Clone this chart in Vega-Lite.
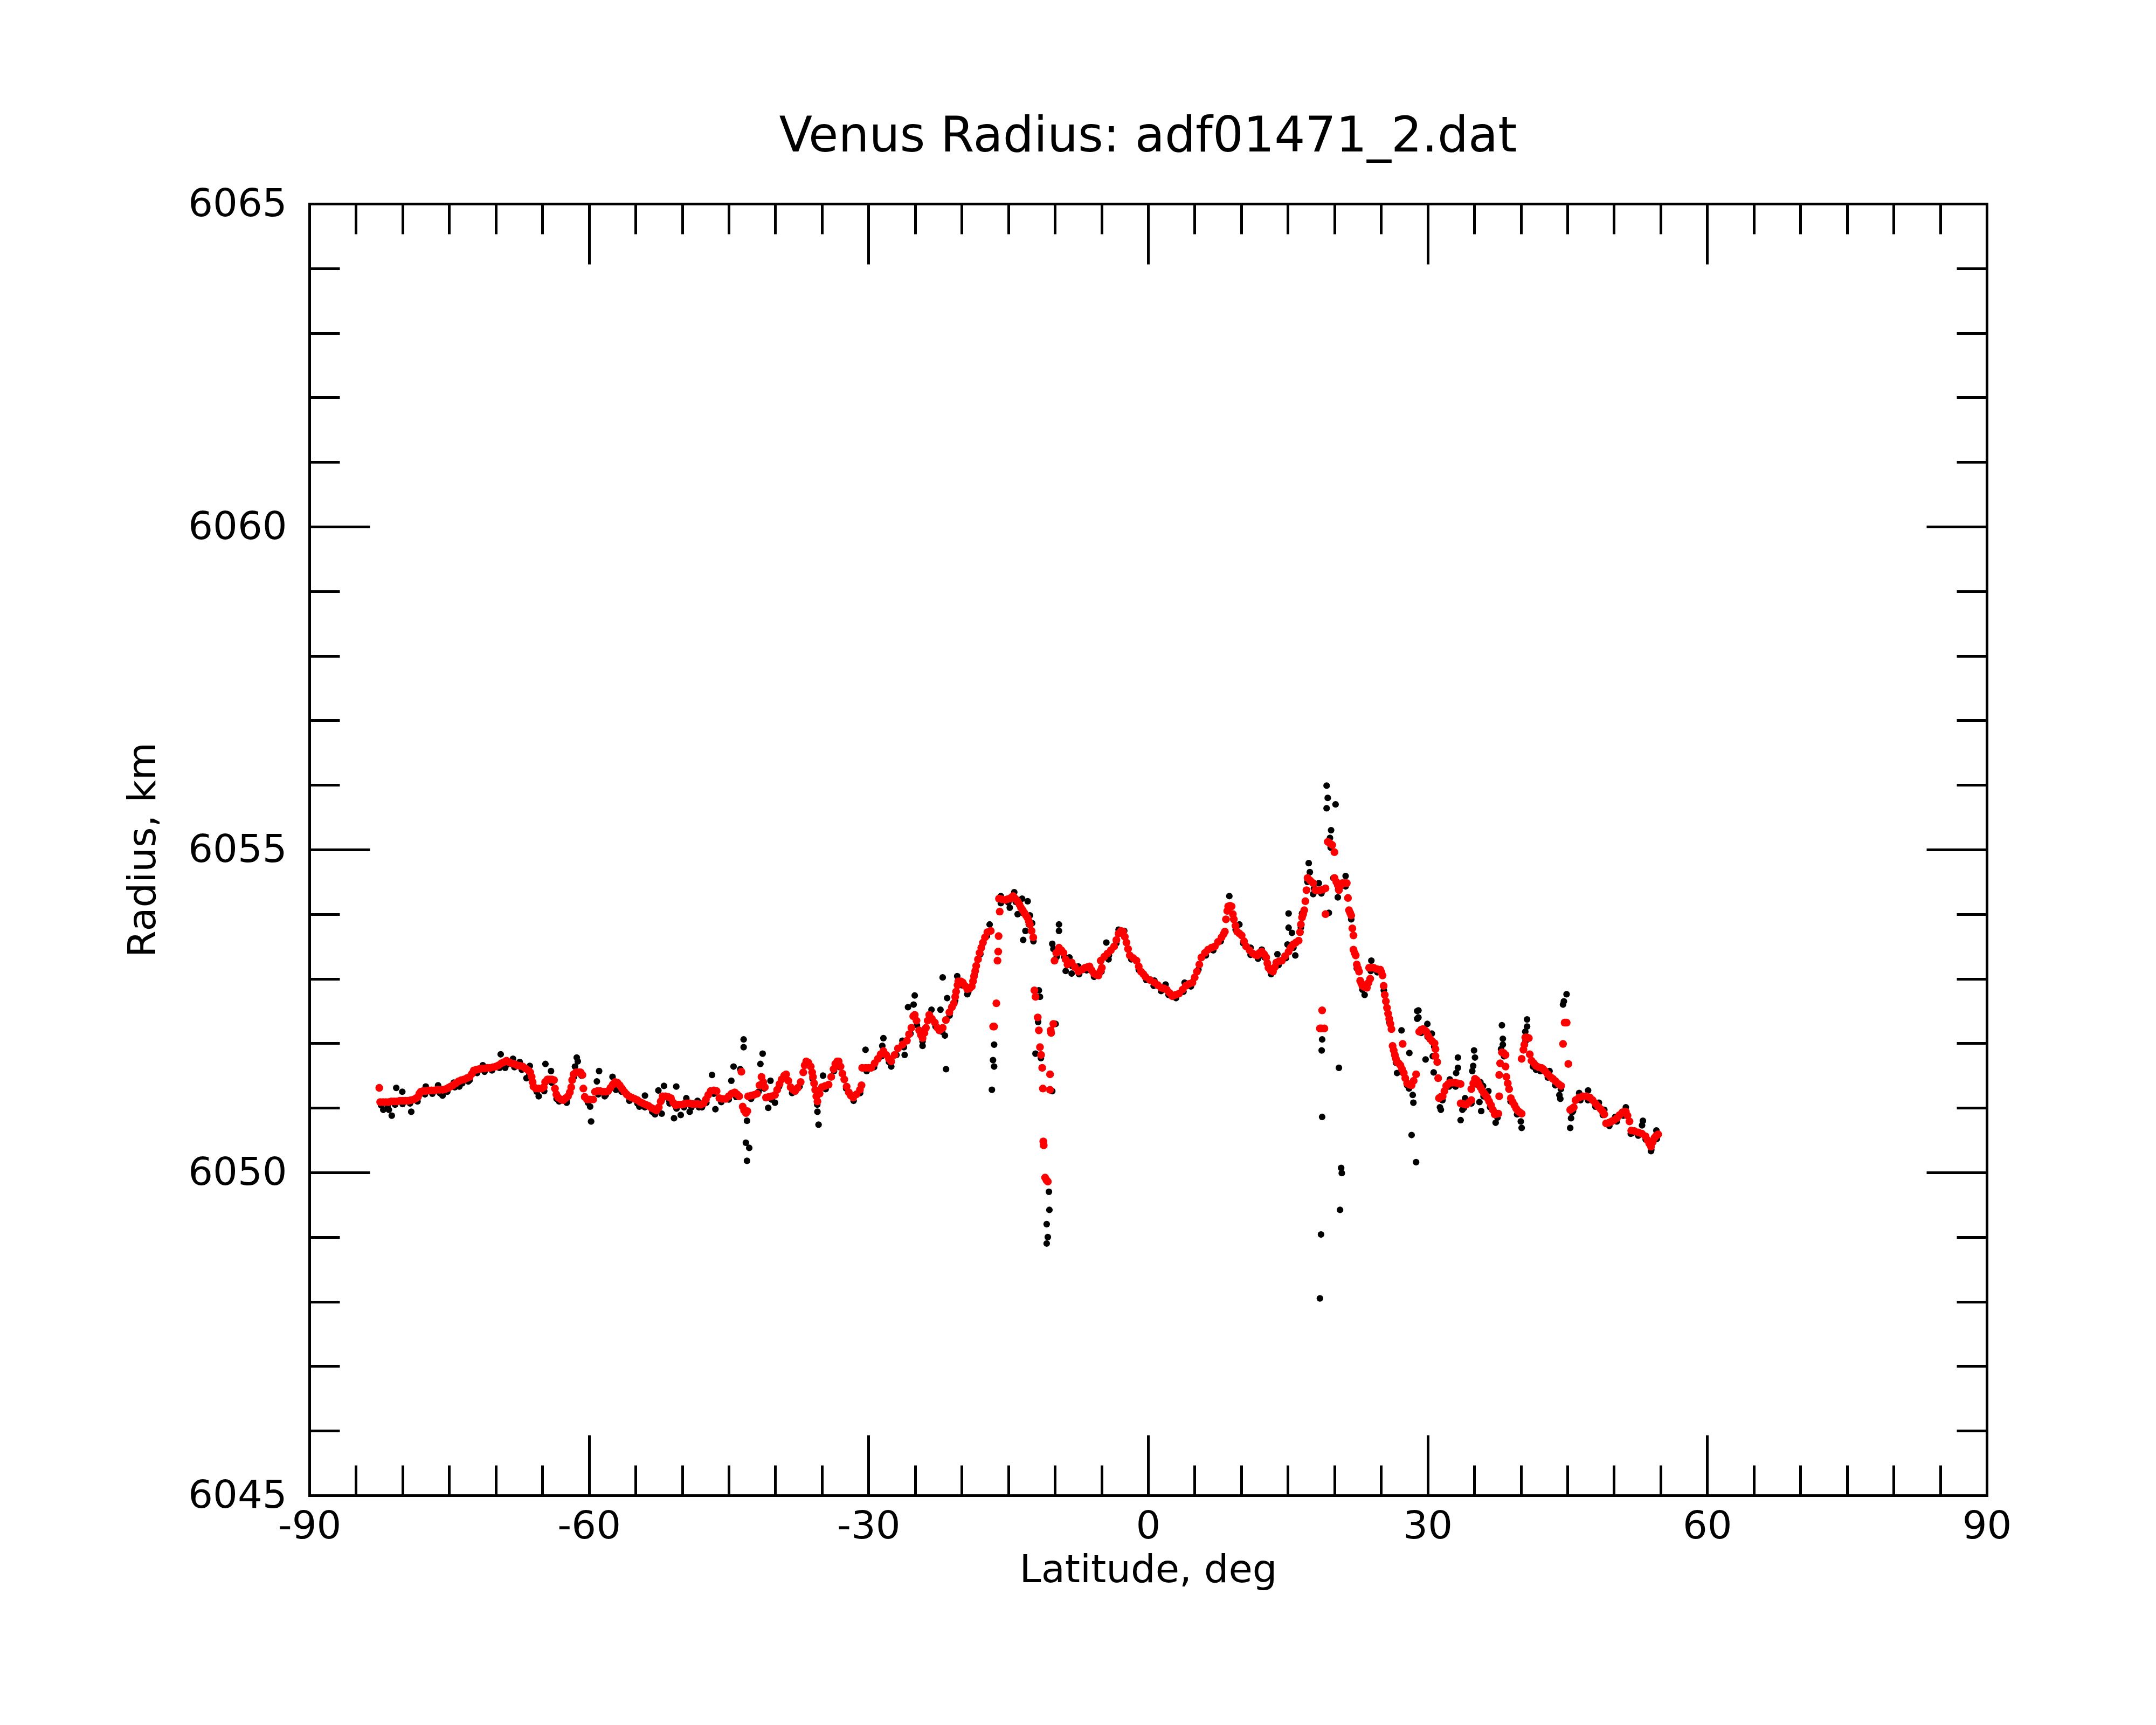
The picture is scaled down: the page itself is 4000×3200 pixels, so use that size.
{
  "$schema": "https://vega.github.io/schema/vega-lite/v6.json",
  "autosize": "none",
  "width": 3112,
  "height": 2396,
  "padding": {"left": 574, "top": 378, "right": 314, "bottom": 426},
  "background": "white",
  "title": {
    "text": "Venus Radius: adf01471_2.dat",
    "font": "DejaVu Sans",
    "fontSize": 90,
    "fontWeight": "normal",
    "color": "black",
    "anchor": "middle",
    "frame": "group",
    "offset": 42
  },
  "datasets": {
    "red": [
      {"lat": -82.5, "radius": 6051.31}, {"lat": -82.4, "radius": 6051.09}, {"lat": -82.1, "radius": 6051.09}, {"lat": -81.8, "radius": 6051.09},
      {"lat": -81.5, "radius": 6051.09}, {"lat": -81.2, "radius": 6051.1}, {"lat": -80.9, "radius": 6051.1}, {"lat": -80.6, "radius": 6051.1},
      {"lat": -80.3, "radius": 6051.11}, {"lat": -80.0, "radius": 6051.11}, {"lat": -79.7, "radius": 6051.11}, {"lat": -79.4, "radius": 6051.11},
      {"lat": -79.1, "radius": 6051.12}, {"lat": -78.8, "radius": 6051.13}, {"lat": -78.55, "radius": 6051.15}, {"lat": -78.35, "radius": 6051.17},
      {"lat": -78.2, "radius": 6051.22}, {"lat": -78.05, "radius": 6051.25}, {"lat": -77.8, "radius": 6051.26}, {"lat": -77.5, "radius": 6051.26},
      {"lat": -77.2, "radius": 6051.27}, {"lat": -76.9, "radius": 6051.27}, {"lat": -76.6, "radius": 6051.27}, {"lat": -76.3, "radius": 6051.28},
      {"lat": -76.0, "radius": 6051.28}, {"lat": -75.7, "radius": 6051.28}, {"lat": -75.4, "radius": 6051.29}, {"lat": -75.1, "radius": 6051.31},
      {"lat": -74.85, "radius": 6051.33}, {"lat": -74.6, "radius": 6051.35}, {"lat": -74.3, "radius": 6051.38}, {"lat": -74.0, "radius": 6051.41},
      {"lat": -73.7, "radius": 6051.43}, {"lat": -73.4, "radius": 6051.44}, {"lat": -73.1, "radius": 6051.46}, {"lat": -72.8, "radius": 6051.48},
      {"lat": -72.55, "radius": 6051.53}, {"lat": -72.35, "radius": 6051.58}, {"lat": -72.1, "radius": 6051.59}, {"lat": -71.8, "radius": 6051.6},
      {"lat": -71.5, "radius": 6051.61}, {"lat": -71.2, "radius": 6051.61}, {"lat": -70.9, "radius": 6051.62}, {"lat": -70.6, "radius": 6051.62},
      {"lat": -70.3, "radius": 6051.63}, {"lat": -70.0, "radius": 6051.64}, {"lat": -69.7, "radius": 6051.66}, {"lat": -69.4, "radius": 6051.69},
      {"lat": -69.1, "radius": 6051.71}, {"lat": -68.85, "radius": 6051.73}, {"lat": -68.6, "radius": 6051.71}, {"lat": -68.3, "radius": 6051.69},
      {"lat": -68.0, "radius": 6051.68}, {"lat": -67.7, "radius": 6051.66}, {"lat": -67.4, "radius": 6051.65}, {"lat": -67.1, "radius": 6051.64},
      {"lat": -66.8, "radius": 6051.61}, {"lat": -66.5, "radius": 6051.58}, {"lat": -66.3, "radius": 6051.55}, {"lat": -66.15, "radius": 6051.48},
      {"lat": -66.05, "radius": 6051.4}, {"lat": -65.95, "radius": 6051.33}, {"lat": -65.7, "radius": 6051.3}, {"lat": -65.4, "radius": 6051.3},
      {"lat": -65.1, "radius": 6051.3}, {"lat": -64.85, "radius": 6051.32}, {"lat": -64.7, "radius": 6051.4}, {"lat": -64.45, "radius": 6051.44},
      {"lat": -64.2, "radius": 6051.44}, {"lat": -63.95, "radius": 6051.44}, {"lat": -63.75, "radius": 6051.43}, {"lat": -63.65, "radius": 6051.3},
      {"lat": -63.5, "radius": 6051.21}, {"lat": -63.3, "radius": 6051.16}, {"lat": -63.0, "radius": 6051.13}, {"lat": -62.75, "radius": 6051.12},
      {"lat": -62.5, "radius": 6051.15}, {"lat": -62.25, "radius": 6051.18}, {"lat": -62.05, "radius": 6051.24}, {"lat": -61.9, "radius": 6051.32},
      {"lat": -61.8, "radius": 6051.43}, {"lat": -61.65, "radius": 6051.52}, {"lat": -61.4, "radius": 6051.55}, {"lat": -61.1, "radius": 6051.55},
      {"lat": -60.9, "radius": 6051.55}, {"lat": -60.7, "radius": 6051.51}, {"lat": -60.6, "radius": 6051.3}, {"lat": -60.45, "radius": 6051.17},
      {"lat": -60.2, "radius": 6051.13}, {"lat": -59.9, "radius": 6051.13}, {"lat": -59.55, "radius": 6051.13}, {"lat": -59.35, "radius": 6051.25},
      {"lat": -59.1, "radius": 6051.26}, {"lat": -58.8, "radius": 6051.26}, {"lat": -58.5, "radius": 6051.25}, {"lat": -58.2, "radius": 6051.25},
      {"lat": -57.95, "radius": 6051.26}, {"lat": -57.7, "radius": 6051.31}, {"lat": -57.45, "radius": 6051.36}, {"lat": -57.2, "radius": 6051.4},
      {"lat": -56.95, "radius": 6051.39}, {"lat": -56.7, "radius": 6051.35}, {"lat": -56.45, "radius": 6051.3}, {"lat": -56.2, "radius": 6051.25},
      {"lat": -55.95, "radius": 6051.21}, {"lat": -55.7, "radius": 6051.18}, {"lat": -55.4, "radius": 6051.16}, {"lat": -55.1, "radius": 6051.14},
      {"lat": -54.8, "radius": 6051.12}, {"lat": -54.5, "radius": 6051.09}, {"lat": -54.2, "radius": 6051.07}, {"lat": -53.9, "radius": 6051.05},
      {"lat": -53.6, "radius": 6051.03}, {"lat": -53.3, "radius": 6051.0}, {"lat": -53.0, "radius": 6050.98}, {"lat": -52.75, "radius": 6050.96},
      {"lat": -52.5, "radius": 6051.01}, {"lat": -52.3, "radius": 6051.1}, {"lat": -52.1, "radius": 6051.18}, {"lat": -51.8, "radius": 6051.18},
      {"lat": -51.5, "radius": 6051.17}, {"lat": -51.2, "radius": 6051.15}, {"lat": -50.95, "radius": 6051.08}, {"lat": -50.7, "radius": 6051.04},
      {"lat": -50.4, "radius": 6051.05}, {"lat": -50.1, "radius": 6051.05}, {"lat": -49.8, "radius": 6051.06}, {"lat": -49.5, "radius": 6051.07},
      {"lat": -49.2, "radius": 6051.07}, {"lat": -48.9, "radius": 6051.06}, {"lat": -48.6, "radius": 6051.06}, {"lat": -48.3, "radius": 6051.06},
      {"lat": -48.0, "radius": 6051.05}, {"lat": -47.7, "radius": 6051.07}, {"lat": -47.45, "radius": 6051.13}, {"lat": -47.2, "radius": 6051.2},
      {"lat": -46.95, "radius": 6051.26}, {"lat": -46.6, "radius": 6051.27}, {"lat": -46.3, "radius": 6051.26}, {"lat": -46.0, "radius": 6051.15},
      {"lat": -45.7, "radius": 6051.14}, {"lat": -45.32, "radius": 6051.14}, {"lat": -45.0, "radius": 6051.18}, {"lat": -44.7, "radius": 6051.22},
      {"lat": -44.36, "radius": 6051.24}, {"lat": -44.1, "radius": 6051.21}, {"lat": -43.88, "radius": 6051.18}, {"lat": -43.64, "radius": 6051.56},
      {"lat": -43.5, "radius": 6051.02}, {"lat": -43.35, "radius": 6050.96}, {"lat": -43.15, "radius": 6050.92}, {"lat": -43.0, "radius": 6050.95},
      {"lat": -42.92, "radius": 6051.18}, {"lat": -42.6, "radius": 6051.19}, {"lat": -42.3, "radius": 6051.2}, {"lat": -41.96, "radius": 6051.22},
      {"lat": -41.7, "radius": 6051.35}, {"lat": -41.48, "radius": 6051.48}, {"lat": -41.3, "radius": 6051.4}, {"lat": -41.12, "radius": 6051.32},
      {"lat": -41.0, "radius": 6051.16}, {"lat": -40.7, "radius": 6051.17}, {"lat": -40.4, "radius": 6051.18}, {"lat": -40.04, "radius": 6051.2},
      {"lat": -39.8, "radius": 6051.28}, {"lat": -39.55, "radius": 6051.37}, {"lat": -39.32, "radius": 6051.44}, {"lat": -39.05, "radius": 6051.5},
      {"lat": -38.84, "radius": 6051.52}, {"lat": -38.6, "radius": 6051.42}, {"lat": -38.36, "radius": 6051.32}, {"lat": -38.1, "radius": 6051.28},
      {"lat": -37.88, "radius": 6051.26}, {"lat": -37.6, "radius": 6051.31}, {"lat": -37.28, "radius": 6051.4}, {"lat": -37.0, "radius": 6051.55},
      {"lat": -36.85, "radius": 6051.66}, {"lat": -36.68, "radius": 6051.72}, {"lat": -36.45, "radius": 6051.7}, {"lat": -36.2, "radius": 6051.64},
      {"lat": -36.05, "radius": 6051.55}, {"lat": -35.96, "radius": 6051.48}, {"lat": -35.84, "radius": 6051.38}, {"lat": -35.72, "radius": 6051.28},
      {"lat": -35.6, "radius": 6051.18}, {"lat": -35.48, "radius": 6051.1}, {"lat": -35.25, "radius": 6051.22}, {"lat": -35.0, "radius": 6051.32},
      {"lat": -34.65, "radius": 6051.34}, {"lat": -34.28, "radius": 6051.36}, {"lat": -34.0, "radius": 6051.48}, {"lat": -33.75, "radius": 6051.6},
      {"lat": -33.56, "radius": 6051.68}, {"lat": -33.35, "radius": 6051.72}, {"lat": -33.2, "radius": 6051.72}, {"lat": -33.0, "radius": 6051.64},
      {"lat": -32.8, "radius": 6051.53}, {"lat": -32.6, "radius": 6051.44}, {"lat": -32.35, "radius": 6051.33}, {"lat": -32.12, "radius": 6051.24},
      {"lat": -31.9, "radius": 6051.19}, {"lat": -31.64, "radius": 6051.16}, {"lat": -31.3, "radius": 6051.21}, {"lat": -30.92, "radius": 6051.28},
      {"lat": -30.75, "radius": 6051.35}, {"lat": -30.68, "radius": 6051.62}, {"lat": -30.3, "radius": 6051.62}, {"lat": -30.0, "radius": 6051.62},
      {"lat": -29.72, "radius": 6051.62}, {"lat": -29.35, "radius": 6051.69}, {"lat": -29.0, "radius": 6051.76}, {"lat": -28.7, "radius": 6051.83},
      {"lat": -28.4, "radius": 6051.88}, {"lat": -28.1, "radius": 6051.82}, {"lat": -27.8, "radius": 6051.76}, {"lat": -27.56, "radius": 6051.72},
      {"lat": -27.2, "radius": 6051.82}, {"lat": -26.84, "radius": 6051.92}, {"lat": -26.35, "radius": 6051.98}, {"lat": -25.88, "radius": 6052.04},
      {"lat": -25.65, "radius": 6052.14}, {"lat": -25.4, "radius": 6052.24}, {"lat": -25.2, "radius": 6052.42}, {"lat": -25.04, "radius": 6052.44},
      {"lat": -24.85, "radius": 6052.35}, {"lat": -24.56, "radius": 6052.2}, {"lat": -24.38, "radius": 6052.13}, {"lat": -24.2, "radius": 6052.08},
      {"lat": -24.0, "radius": 6052.16}, {"lat": -23.84, "radius": 6052.24}, {"lat": -23.65, "radius": 6052.35}, {"lat": -23.48, "radius": 6052.44},
      {"lat": -23.2, "radius": 6052.38}, {"lat": -22.88, "radius": 6052.32}, {"lat": -22.6, "radius": 6052.24}, {"lat": -22.4, "radius": 6052.2},
      {"lat": -22.2, "radius": 6052.22}, {"lat": -22.04, "radius": 6052.24}, {"lat": -21.7, "radius": 6052.36}, {"lat": -21.32, "radius": 6052.48},
      {"lat": -21.05, "radius": 6052.56}, {"lat": -20.84, "radius": 6052.62}, {"lat": -20.7, "radius": 6052.72}, {"lat": -20.6, "radius": 6052.8},
      {"lat": -20.45, "radius": 6052.9}, {"lat": -20.36, "radius": 6052.96}, {"lat": -20.1, "radius": 6052.96}, {"lat": -19.88, "radius": 6052.94},
      {"lat": -19.65, "radius": 6052.89}, {"lat": -19.4, "radius": 6052.84}, {"lat": -19.15, "radius": 6052.85}, {"lat": -18.92, "radius": 6052.88},
      {"lat": -18.78, "radius": 6052.96}, {"lat": -18.68, "radius": 6053.04}, {"lat": -18.55, "radius": 6053.12}, {"lat": -18.44, "radius": 6053.2},
      {"lat": -18.25, "radius": 6053.3}, {"lat": -18.08, "radius": 6053.4}, {"lat": -17.9, "radius": 6053.48}, {"lat": -17.72, "radius": 6053.56},
      {"lat": -17.5, "radius": 6053.64}, {"lat": -17.24, "radius": 6053.72}, {"lat": -16.88, "radius": 6053.74}, {"lat": -16.52, "radius": 6052.26},
      {"lat": -16.62, "radius": 6052.26}, {"lat": -16.28, "radius": 6052.62}, {"lat": -16.16, "radius": 6053.28}, {"lat": -16.08, "radius": 6053.42},
      {"lat": -16.04, "radius": 6053.66}, {"lat": -15.92, "radius": 6054.04}, {"lat": -16.0, "radius": 6054.24}, {"lat": -15.7, "radius": 6054.23},
      {"lat": -15.32, "radius": 6054.22}, {"lat": -15.1, "radius": 6054.23}, {"lat": -14.84, "radius": 6054.24}, {"lat": -14.65, "radius": 6054.26},
      {"lat": -14.48, "radius": 6054.28}, {"lat": -14.25, "radius": 6054.24}, {"lat": -14.0, "radius": 6054.2}, {"lat": -13.8, "radius": 6054.15},
      {"lat": -13.64, "radius": 6054.1}, {"lat": -13.45, "radius": 6054.06}, {"lat": -13.28, "radius": 6054.02}, {"lat": -13.1, "radius": 6053.98},
      {"lat": -12.92, "radius": 6053.94}, {"lat": -12.8, "radius": 6053.89}, {"lat": -12.68, "radius": 6053.84}, {"lat": -12.5, "radius": 6053.74},
      {"lat": -12.32, "radius": 6053.64}, {"lat": -12.2, "radius": 6052.82}, {"lat": -12.08, "radius": 6052.72}, {"lat": -11.84, "radius": 6052.4},
      {"lat": -11.72, "radius": 6052.2}, {"lat": -11.6, "radius": 6051.94}, {"lat": -11.48, "radius": 6051.82}, {"lat": -11.36, "radius": 6051.62},
      {"lat": -11.29, "radius": 6051.3}, {"lat": -11.24, "radius": 6050.48}, {"lat": -11.2, "radius": 6050.42}, {"lat": -11.05, "radius": 6049.92},
      {"lat": -10.9, "radius": 6049.88}, {"lat": -10.76, "radius": 6049.86}, {"lat": -10.52, "radius": 6051.28}, {"lat": -10.52, "radius": 6051.52},
      {"lat": -10.4, "radius": 6052.16}, {"lat": -10.45, "radius": 6052.2}, {"lat": -10.16, "radius": 6052.3}, {"lat": -10.04, "radius": 6053.28},
      {"lat": -9.85, "radius": 6053.4}, {"lat": -9.56, "radius": 6053.48}, {"lat": -9.3, "radius": 6053.44}, {"lat": -9.08, "radius": 6053.4},
      {"lat": -8.85, "radius": 6053.3}, {"lat": -8.65, "radius": 6053.22}, {"lat": -8.44, "radius": 6053.25}, {"lat": -8.2, "radius": 6053.25},
      {"lat": -7.85, "radius": 6053.18}, {"lat": -7.48, "radius": 6053.11}, {"lat": -7.1, "radius": 6053.14}, {"lat": -6.76, "radius": 6053.17},
      {"lat": -6.5, "radius": 6053.18}, {"lat": -6.28, "radius": 6053.19}, {"lat": -6.05, "radius": 6053.13}, {"lat": -5.8, "radius": 6053.08},
      {"lat": -5.55, "radius": 6053.06}, {"lat": -5.32, "radius": 6053.05}, {"lat": -5.1, "radius": 6053.12}, {"lat": -4.96, "radius": 6053.17},
      {"lat": -5.08, "radius": 6053.28}, {"lat": -4.7, "radius": 6053.34}, {"lat": -4.36, "radius": 6053.39}, {"lat": -4.0, "radius": 6053.44},
      {"lat": -3.64, "radius": 6053.5}, {"lat": -3.4, "radius": 6053.6}, {"lat": -3.16, "radius": 6053.7}, {"lat": -2.9, "radius": 6053.74},
      {"lat": -2.68, "radius": 6053.73}, {"lat": -2.5, "radius": 6053.65}, {"lat": -2.32, "radius": 6053.56}, {"lat": -2.15, "radius": 6053.46},
      {"lat": -1.96, "radius": 6053.36}, {"lat": -1.6, "radius": 6053.32}, {"lat": -1.24, "radius": 6053.28}, {"lat": -1.0, "radius": 6053.19},
      {"lat": -0.76, "radius": 6053.11}, {"lat": -0.5, "radius": 6053.07}, {"lat": -0.28, "radius": 6053.03}, {"lat": 0.2, "radius": 6052.98},
      {"lat": 0.68, "radius": 6052.94}, {"lat": 1.05, "radius": 6052.9}, {"lat": 1.4, "radius": 6052.86}, {"lat": 1.7, "radius": 6052.85},
      {"lat": 2.0, "radius": 6052.83}, {"lat": 2.3, "radius": 6052.78}, {"lat": 2.6, "radius": 6052.73}, {"lat": 2.95, "radius": 6052.75},
      {"lat": 3.32, "radius": 6052.77}, {"lat": 3.7, "radius": 6052.83}, {"lat": 4.04, "radius": 6052.89}, {"lat": 4.4, "radius": 6052.92},
      {"lat": 4.76, "radius": 6052.94}, {"lat": 5.0, "radius": 6053.02}, {"lat": 5.24, "radius": 6053.11}, {"lat": 5.5, "radius": 6053.22},
      {"lat": 5.72, "radius": 6053.33}, {"lat": 6.1, "radius": 6053.4}, {"lat": 6.44, "radius": 6053.45}, {"lat": 6.8, "radius": 6053.48},
      {"lat": 7.16, "radius": 6053.5}, {"lat": 7.5, "radius": 6053.57}, {"lat": 7.88, "radius": 6053.64}, {"lat": 8.1, "radius": 6053.69},
      {"lat": 8.24, "radius": 6053.73}, {"lat": 8.36, "radius": 6053.92}, {"lat": 8.5, "radius": 6054.05}, {"lat": 8.6, "radius": 6054.12},
      {"lat": 8.8, "radius": 6054.13}, {"lat": 8.96, "radius": 6054.12}, {"lat": 9.1, "radius": 6054.0}, {"lat": 9.2, "radius": 6053.92},
      {"lat": 9.38, "radius": 6053.82}, {"lat": 9.56, "radius": 6053.73}, {"lat": 9.8, "radius": 6053.7}, {"lat": 10.04, "radius": 6053.67},
      {"lat": 10.3, "radius": 6053.58}, {"lat": 10.52, "radius": 6053.5}, {"lat": 10.9, "radius": 6053.44}, {"lat": 11.24, "radius": 6053.39},
      {"lat": 11.5, "radius": 6053.37}, {"lat": 11.72, "radius": 6053.36}, {"lat": 11.95, "radius": 6053.4}, {"lat": 12.2, "radius": 6053.42},
      {"lat": 12.45, "radius": 6053.38}, {"lat": 12.68, "radius": 6053.33}, {"lat": 12.8, "radius": 6053.24}, {"lat": 12.92, "radius": 6053.17},
      {"lat": 13.15, "radius": 6053.13}, {"lat": 13.4, "radius": 6053.11}, {"lat": 13.6, "radius": 6053.18}, {"lat": 13.76, "radius": 6053.25},
      {"lat": 14.05, "radius": 6053.27}, {"lat": 14.36, "radius": 6053.28}, {"lat": 14.7, "radius": 6053.35}, {"lat": 15.08, "radius": 6053.42},
      {"lat": 15.3, "radius": 6053.48}, {"lat": 15.56, "radius": 6053.53}, {"lat": 15.85, "radius": 6053.56}, {"lat": 16.16, "radius": 6053.59},
      {"lat": 16.3, "radius": 6053.72}, {"lat": 16.4, "radius": 6053.84}, {"lat": 16.52, "radius": 6053.95}, {"lat": 16.64, "radius": 6054.0},
      {"lat": 16.76, "radius": 6054.06}, {"lat": 16.88, "radius": 6054.2}, {"lat": 17.0, "radius": 6054.37}, {"lat": 17.12, "radius": 6054.56},
      {"lat": 17.4, "radius": 6054.52}, {"lat": 17.72, "radius": 6054.48}, {"lat": 17.96, "radius": 6054.37}, {"lat": 18.2, "radius": 6054.37},
      {"lat": 18.44, "radius": 6054.37}, {"lat": 18.75, "radius": 6054.38}, {"lat": 19.04, "radius": 6054.4}, {"lat": 19.04, "radius": 6054.0},
      {"lat": 19.28, "radius": 6055.12}, {"lat": 19.5, "radius": 6055.1}, {"lat": 19.76, "radius": 6055.07}, {"lat": 20.0, "radius": 6054.96},
      {"lat": 20.0, "radius": 6054.56}, {"lat": 20.2, "radius": 6054.5}, {"lat": 20.36, "radius": 6054.45}, {"lat": 20.48, "radius": 6054.37},
      {"lat": 20.65, "radius": 6054.44}, {"lat": 20.84, "radius": 6054.48}, {"lat": 21.1, "radius": 6054.48}, {"lat": 21.32, "radius": 6054.48},
      {"lat": 21.45, "radius": 6054.25}, {"lat": 21.56, "radius": 6054.06}, {"lat": 21.68, "radius": 6054.02}, {"lat": 21.8, "radius": 6053.98},
      {"lat": 21.92, "radius": 6053.78}, {"lat": 22.04, "radius": 6053.67}, {"lat": 22.04, "radius": 6053.45}, {"lat": 22.16, "radius": 6053.4},
      {"lat": 22.28, "radius": 6053.36}, {"lat": 22.4, "radius": 6053.22}, {"lat": 22.52, "radius": 6053.16}, {"lat": 22.64, "radius": 6053.11},
      {"lat": 22.76, "radius": 6052.97}, {"lat": 22.88, "radius": 6052.93}, {"lat": 23.0, "radius": 6052.89}, {"lat": 23.24, "radius": 6052.87},
      {"lat": 23.48, "radius": 6052.86}, {"lat": 23.66, "radius": 6052.94}, {"lat": 23.84, "radius": 6053.0}, {"lat": 23.72, "radius": 6053.17},
      {"lat": 23.95, "radius": 6053.17}, {"lat": 24.2, "radius": 6053.17}, {"lat": 24.55, "radius": 6053.15}, {"lat": 24.92, "radius": 6053.14},
      {"lat": 25.04, "radius": 6053.1}, {"lat": 25.16, "radius": 6053.05}, {"lat": 25.28, "radius": 6052.89}, {"lat": 25.4, "radius": 6052.75},
      {"lat": 25.52, "radius": 6052.65}, {"lat": 25.64, "radius": 6052.55}, {"lat": 25.76, "radius": 6052.46}, {"lat": 25.88, "radius": 6052.38},
      {"lat": 26.0, "radius": 6052.3}, {"lat": 26.12, "radius": 6052.22}, {"lat": 26.24, "radius": 6051.96}, {"lat": 26.36, "radius": 6051.89},
      {"lat": 26.48, "radius": 6051.82}, {"lat": 26.6, "radius": 6051.76}, {"lat": 26.72, "radius": 6051.71}, {"lat": 26.9, "radius": 6051.69},
      {"lat": 27.08, "radius": 6051.66}, {"lat": 27.25, "radius": 6051.6}, {"lat": 27.44, "radius": 6051.54}, {"lat": 27.6, "radius": 6051.46},
      {"lat": 27.8, "radius": 6051.38}, {"lat": 28.05, "radius": 6051.36}, {"lat": 28.28, "radius": 6051.35}, {"lat": 28.5, "radius": 6051.42},
      {"lat": 28.76, "radius": 6051.52}, {"lat": 27.32, "radius": 6051.99}, {"lat": 18.68, "radius": 6052.51}, {"lat": 18.44, "radius": 6052.23},
      {"lat": 18.6, "radius": 6052.23}, {"lat": 18.92, "radius": 6052.23},
      {"lat": 29.1, "radius": 6052.18}, {"lat": 29.3, "radius": 6052.21}, {"lat": 29.49, "radius": 6052.22}, {"lat": 29.7, "radius": 6052.2},
      {"lat": 29.87, "radius": 6052.18}, {"lat": 30.05, "radius": 6052.12}, {"lat": 30.26, "radius": 6052.07}, {"lat": 30.5, "radius": 6052.03},
      {"lat": 30.74, "radius": 6052.0}, {"lat": 30.84, "radius": 6051.91}, {"lat": 30.84, "radius": 6051.8}, {"lat": 31.03, "radius": 6051.71},
      {"lat": 31.13, "radius": 6051.46}, {"lat": 31.22, "radius": 6051.15}, {"lat": 31.4, "radius": 6051.17}, {"lat": 31.61, "radius": 6051.18},
      {"lat": 31.8, "radius": 6051.26}, {"lat": 32.0, "radius": 6051.34}, {"lat": 32.2, "radius": 6051.37}, {"lat": 32.38, "radius": 6051.39},
      {"lat": 32.65, "radius": 6051.39}, {"lat": 32.96, "radius": 6051.39}, {"lat": 33.25, "radius": 6051.38}, {"lat": 33.54, "radius": 6051.37},
      {"lat": 33.54, "radius": 6051.07}, {"lat": 33.85, "radius": 6051.06}, {"lat": 34.12, "radius": 6051.05}, {"lat": 34.4, "radius": 6051.08},
      {"lat": 34.69, "radius": 6051.12}, {"lat": 34.69, "radius": 6051.29}, {"lat": 34.9, "radius": 6051.38}, {"lat": 35.08, "radius": 6051.45},
      {"lat": 35.25, "radius": 6051.43}, {"lat": 35.37, "radius": 6051.4}, {"lat": 35.5, "radius": 6051.36}, {"lat": 35.66, "radius": 6051.32},
      {"lat": 35.85, "radius": 6051.27}, {"lat": 36.04, "radius": 6051.23}, {"lat": 36.25, "radius": 6051.19}, {"lat": 36.43, "radius": 6051.15},
      {"lat": 36.6, "radius": 6051.1}, {"lat": 36.81, "radius": 6051.04}, {"lat": 37.0, "radius": 6050.97}, {"lat": 37.2, "radius": 6050.9},
      {"lat": 37.4, "radius": 6050.91}, {"lat": 37.59, "radius": 6050.91}, {"lat": 37.68, "radius": 6051.18}, {"lat": 37.68, "radius": 6051.51},
      {"lat": 37.78, "radius": 6051.69}, {"lat": 37.97, "radius": 6051.86}, {"lat": 38.15, "radius": 6051.85}, {"lat": 38.36, "radius": 6051.82},
      {"lat": 38.36, "radius": 6051.64}, {"lat": 38.45, "radius": 6051.48}, {"lat": 38.6, "radius": 6051.38}, {"lat": 38.74, "radius": 6051.29},
      {"lat": 38.93, "radius": 6051.15}, {"lat": 39.12, "radius": 6051.09}, {"lat": 39.32, "radius": 6051.04}, {"lat": 39.5, "radius": 6050.99},
      {"lat": 39.71, "radius": 6050.95}, {"lat": 39.9, "radius": 6050.93}, {"lat": 40.09, "radius": 6050.91}, {"lat": 40.09, "radius": 6051.76},
      {"lat": 40.28, "radius": 6051.9}, {"lat": 40.38, "radius": 6051.98}, {"lat": 40.48, "radius": 6052.09}, {"lat": 40.67, "radius": 6052.09},
      {"lat": 40.86, "radius": 6052.08}, {"lat": 40.96, "radius": 6051.83}, {"lat": 41.15, "radius": 6051.73}, {"lat": 41.4, "radius": 6051.69},
      {"lat": 41.63, "radius": 6051.65}, {"lat": 41.9, "radius": 6051.63}, {"lat": 42.21, "radius": 6051.62}, {"lat": 42.4, "radius": 6051.6},
      {"lat": 42.6, "radius": 6051.57}, {"lat": 42.9, "radius": 6051.52}, {"lat": 43.18, "radius": 6051.48}, {"lat": 43.45, "radius": 6051.45},
      {"lat": 43.75, "radius": 6051.41}, {"lat": 44.05, "radius": 6051.37}, {"lat": 44.33, "radius": 6051.34}, {"lat": 44.7, "radius": 6052.32},
      {"lat": 44.81, "radius": 6052.32}, {"lat": 44.92, "radius": 6052.32}, {"lat": 44.53, "radius": 6051.99}, {"lat": 45.1, "radius": 6051.68},
      {"lat": 45.3, "radius": 6050.97}, {"lat": 45.5, "radius": 6050.99}, {"lat": 45.68, "radius": 6051.01}, {"lat": 45.88, "radius": 6051.12},
      {"lat": 46.25, "radius": 6051.16}, {"lat": 46.65, "radius": 6051.18}, {"lat": 47.05, "radius": 6051.18}, {"lat": 47.42, "radius": 6051.16},
      {"lat": 47.7, "radius": 6051.12}, {"lat": 48.0, "radius": 6051.07}, {"lat": 48.3, "radius": 6051.02}, {"lat": 48.57, "radius": 6050.98},
      {"lat": 48.8, "radius": 6050.94}, {"lat": 48.96, "radius": 6050.9}, {"lat": 49.15, "radius": 6050.76}, {"lat": 49.45, "radius": 6050.77},
      {"lat": 49.73, "radius": 6050.79}, {"lat": 50.0, "radius": 6050.81}, {"lat": 50.31, "radius": 6050.84}, {"lat": 50.6, "radius": 6050.89},
      {"lat": 50.89, "radius": 6050.93}, {"lat": 51.1, "radius": 6050.94}, {"lat": 51.27, "radius": 6050.94}, {"lat": 51.45, "radius": 6050.88},
      {"lat": 51.66, "radius": 6050.79}, {"lat": 51.85, "radius": 6050.65}, {"lat": 52.2, "radius": 6050.64}, {"lat": 52.62, "radius": 6050.62},
      {"lat": 53.0, "radius": 6050.6}, {"lat": 53.39, "radius": 6050.56}, {"lat": 53.6, "radius": 6050.5}, {"lat": 53.78, "radius": 6050.45},
      {"lat": 53.97, "radius": 6050.4}, {"lat": 54.15, "radius": 6050.47}, {"lat": 54.36, "radius": 6050.54}, {"lat": 54.55, "radius": 6050.57},
      {"lat": 54.74, "radius": 6050.59}
    ],
    "black": [
      {"lat": -82.07, "radius": 6050.97}, {"lat": -81.47, "radius": 6050.97}, {"lat": -81.16, "radius": 6050.88}, {"lat": -80.68, "radius": 6051.31},
      {"lat": -80.03, "radius": 6051.25}, {"lat": -79.07, "radius": 6050.94}, {"lat": -77.51, "radius": 6051.33}, {"lat": -76.19, "radius": 6051.35},
      {"lat": -75.71, "radius": 6051.19}, {"lat": -74.51, "radius": 6051.39}, {"lat": -73.91, "radius": 6051.33}, {"lat": -72.95, "radius": 6051.41},
      {"lat": -71.39, "radius": 6051.66}, {"lat": -69.47, "radius": 6051.83}, {"lat": -68.99, "radius": 6051.62}, {"lat": -68.15, "radius": 6051.76},
      {"lat": -67.43, "radius": 6051.71}, {"lat": -66.71, "radius": 6051.46}, {"lat": -66.35, "radius": 6051.65}, {"lat": -65.39, "radius": 6051.18},
      {"lat": -64.67, "radius": 6051.68}, {"lat": -64.07, "radius": 6051.57}, {"lat": -63.47, "radius": 6051.14}, {"lat": -62.39, "radius": 6051.08},
      {"lat": -61.31, "radius": 6051.78}, {"lat": -61.2, "radius": 6051.72}, {"lat": -61.5, "radius": 6051.64}, {"lat": -59.87, "radius": 6051.02},
      {"lat": -59.77, "radius": 6050.79}, {"lat": -58.91, "radius": 6051.57}, {"lat": -59.15, "radius": 6051.41}, {"lat": -58.31, "radius": 6051.18},
      {"lat": -57.47, "radius": 6051.48}, {"lat": -57.11, "radius": 6051.28}, {"lat": -55.67, "radius": 6051.11}, {"lat": -54.59, "radius": 6051.02},
      {"lat": -53.99, "radius": 6051.19}, {"lat": -52.91, "radius": 6050.9}, {"lat": -52.55, "radius": 6051.27}, {"lat": -52.19, "radius": 6050.91},
      {"lat": -51.95, "radius": 6051.34}, {"lat": -51.35, "radius": 6051.07}, {"lat": -50.87, "radius": 6050.84}, {"lat": -50.63, "radius": 6051.33},
      {"lat": -50.15, "radius": 6050.89}, {"lat": -49.55, "radius": 6051.15}, {"lat": -49.19, "radius": 6050.94}, {"lat": -48.35, "radius": 6051.11},
      {"lat": -47.87, "radius": 6051.01}, {"lat": -46.79, "radius": 6051.51}, {"lat": -46.43, "radius": 6050.98},
      {"lat": -43.4, "radius": 6052.06}, {"lat": -43.4, "radius": 6051.94}, {"lat": -44.48, "radius": 6051.64}, {"lat": -44.72, "radius": 6051.42},
      {"lat": -43.76, "radius": 6051.6}, {"lat": -43.04, "radius": 6050.8}, {"lat": -43.16, "radius": 6050.46}, {"lat": -42.8, "radius": 6050.38},
      {"lat": -43.04, "radius": 6050.18}, {"lat": -41.36, "radius": 6051.84}, {"lat": -41.6, "radius": 6051.68}, {"lat": -40.52, "radius": 6051.42},
      {"lat": -40.76, "radius": 6051.0}, {"lat": -40.04, "radius": 6051.08}, {"lat": -35.48, "radius": 6050.94}, {"lat": -35.36, "radius": 6050.74},
      {"lat": -34.88, "radius": 6051.5}, {"lat": -30.32, "radius": 6051.9}, {"lat": -28.4, "radius": 6052.08}, {"lat": -28.52, "radius": 6051.96},
      {"lat": -27.56, "radius": 6051.64}, {"lat": -26.36, "radius": 6052.04}, {"lat": -26.12, "radius": 6051.82}, {"lat": -25.76, "radius": 6052.56},
      {"lat": -25.04, "radius": 6052.74}, {"lat": -25.16, "radius": 6052.6}, {"lat": -24.2, "radius": 6051.96}, {"lat": -23.24, "radius": 6052.52},
      {"lat": -22.28, "radius": 6052.52}, {"lat": -22.04, "radius": 6053.02}, {"lat": -21.8, "radius": 6052.12}, {"lat": -21.56, "radius": 6052.7},
      {"lat": -21.68, "radius": 6051.6}, {"lat": -20.48, "radius": 6053.04}, {"lat": -19.4, "radius": 6052.76}, {"lat": -17.0, "radius": 6053.84},
      {"lat": -16.52, "radius": 6051.98}, {"lat": -16.64, "radius": 6051.74}, {"lat": -16.52, "radius": 6051.64}, {"lat": -16.76, "radius": 6051.28},
      {"lat": -15.8, "radius": 6054.28}, {"lat": -14.84, "radius": 6054.1}, {"lat": -14.36, "radius": 6054.34}, {"lat": -13.52, "radius": 6054.24},
      {"lat": -12.92, "radius": 6054.2}, {"lat": -14.0, "radius": 6054.0}, {"lat": -13.16, "radius": 6053.74}, {"lat": -13.4, "radius": 6053.6},
      {"lat": -12.68, "radius": 6053.98}, {"lat": -12.44, "radius": 6053.86}, {"lat": -12.08, "radius": 6051.84}, {"lat": -11.72, "radius": 6052.82},
      {"lat": -11.6, "radius": 6052.72}, {"lat": -10.64, "radius": 6049.7}, {"lat": -10.59, "radius": 6049.42}, {"lat": -10.88, "radius": 6049.2},
      {"lat": -10.76, "radius": 6049.0}, {"lat": -10.88, "radius": 6048.9}, {"lat": -10.28, "radius": 6051.26}, {"lat": -9.92, "radius": 6052.3},
      {"lat": -10.28, "radius": 6053.54}, {"lat": -10.16, "radius": 6053.46}, {"lat": -9.56, "radius": 6053.84}, {"lat": -9.56, "radius": 6053.74},
      {"lat": -8.84, "radius": 6053.12},
      {"lat": -8.44, "radius": 6053.33}, {"lat": -8.2, "radius": 6053.08}, {"lat": -7.48, "radius": 6053.19}, {"lat": -6.4, "radius": 6053.17},
      {"lat": -4.48, "radius": 6053.56}, {"lat": -4.24, "radius": 6053.3}, {"lat": -3.16, "radius": 6053.76}, {"lat": -2.56, "radius": 6053.74},
      {"lat": 0.68, "radius": 6052.97}, {"lat": 1.88, "radius": 6052.91}, {"lat": 3.92, "radius": 6052.94}, {"lat": 8.72, "radius": 6054.28},
      {"lat": 9.8, "radius": 6053.84}, {"lat": 11.0, "radius": 6053.48}, {"lat": 12.2, "radius": 6053.45}, {"lat": 13.88, "radius": 6053.38},
      {"lat": 14.96, "radius": 6053.53}, {"lat": 15.08, "radius": 6054.01}, {"lat": 15.08, "radius": 6053.79}, {"lat": 15.44, "radius": 6053.71},
      {"lat": 15.8, "radius": 6053.36}, {"lat": 16.52, "radius": 6054.01}, {"lat": 17.24, "radius": 6054.79}, {"lat": 17.36, "radius": 6054.65},
      {"lat": 17.72, "radius": 6054.31}, {"lat": 18.32, "radius": 6054.48}, {"lat": 19.16, "radius": 6055.99}, {"lat": 19.28, "radius": 6055.8},
      {"lat": 19.16, "radius": 6055.64}, {"lat": 20.12, "radius": 6055.7}, {"lat": 19.64, "radius": 6055.3}, {"lat": 19.52, "radius": 6055.18},
      {"lat": 19.88, "radius": 6054.56}, {"lat": 20.36, "radius": 6054.26}, {"lat": 21.2, "radius": 6054.59}, {"lat": 19.4, "radius": 6054.02},
      {"lat": 18.68, "radius": 6052.06}, {"lat": 18.63, "radius": 6051.89}, {"lat": 18.68, "radius": 6050.86}, {"lat": 18.56, "radius": 6049.04},
      {"lat": 18.44, "radius": 6048.05}, {"lat": 20.48, "radius": 6051.62}, {"lat": 20.72, "radius": 6050.07}, {"lat": 20.79, "radius": 6049.99},
      {"lat": 20.6, "radius": 6049.42}, {"lat": 23.24, "radius": 6052.75}, {"lat": 23.96, "radius": 6053.28}, {"lat": 27.2, "radius": 6052.2},
      {"lat": 26.72, "radius": 6051.54}, {"lat": 27.8, "radius": 6051.35}, {"lat": 28.04, "radius": 6051.85}, {"lat": 28.4, "radius": 6051.2},
      {"lat": 28.47, "radius": 6051.08}, {"lat": 28.28, "radius": 6050.58}, {"lat": 28.76, "radius": 6050.16}, {"lat": 28.88, "radius": 6052.5},
      {"lat": 28.88, "radius": 6052.38},
      {"lat": 29.01, "radius": 6052.51}, {"lat": 29.01, "radius": 6052.4}, {"lat": 29.97, "radius": 6052.3}, {"lat": 30.45, "radius": 6052.15},
      {"lat": 30.55, "radius": 6051.8}, {"lat": 30.65, "radius": 6051.55}, {"lat": 29.78, "radius": 6051.75}, {"lat": 31.32, "radius": 6051.01},
      {"lat": 31.42, "radius": 6050.97}, {"lat": 32.38, "radius": 6051.44}, {"lat": 32.77, "radius": 6051.36}, {"lat": 33.25, "radius": 6051.78},
      {"lat": 33.25, "radius": 6051.62}, {"lat": 33.06, "radius": 6051.54}, {"lat": 33.54, "radius": 6050.81}, {"lat": 33.73, "radius": 6050.97},
      {"lat": 34.02, "radius": 6051.15}, {"lat": 34.98, "radius": 6051.89}, {"lat": 35.08, "radius": 6051.78}, {"lat": 34.89, "radius": 6051.65},
      {"lat": 34.79, "radius": 6051.57}, {"lat": 35.66, "radius": 6051.4}, {"lat": 35.56, "radius": 6051.09}, {"lat": 35.75, "radius": 6050.95},
      {"lat": 35.95, "radius": 6051.34}, {"lat": 36.52, "radius": 6051.26}, {"lat": 37.3, "radius": 6050.77}, {"lat": 37.97, "radius": 6052.28},
      {"lat": 38.07, "radius": 6052.07}, {"lat": 38.07, "radius": 6051.98}, {"lat": 37.88, "radius": 6051.91}, {"lat": 40.09, "radius": 6050.69},
      {"lat": 40.0, "radius": 6050.79}, {"lat": 40.67, "radius": 6052.37}, {"lat": 40.67, "radius": 6052.26}, {"lat": 40.48, "radius": 6052.18},
      {"lat": 41.63, "radius": 6051.59}, {"lat": 43.08, "radius": 6051.57}, {"lat": 44.14, "radius": 6051.2}, {"lat": 44.24, "radius": 6051.14},
      {"lat": 44.91, "radius": 6052.76}, {"lat": 44.62, "radius": 6052.65}, {"lat": 44.53, "radius": 6052.6}, {"lat": 45.3, "radius": 6050.69},
      {"lat": 45.39, "radius": 6050.84}, {"lat": 45.49, "radius": 6050.93}, {"lat": 46.26, "radius": 6051.23}, {"lat": 47.22, "radius": 6051.27},
      {"lat": 48.38, "radius": 6051.08}, {"lat": 48.96, "radius": 6050.97}, {"lat": 50.12, "radius": 6050.86}, {"lat": 51.27, "radius": 6051.01},
      {"lat": 51.95, "radius": 6050.61}, {"lat": 53.1, "radius": 6050.8}, {"lat": 53.01, "radius": 6050.73}, {"lat": 53.97, "radius": 6050.33},
      {"lat": 54.55, "radius": 6050.65},
      {"lat": -82.3, "radius": 6051.04}, {"lat": -81.6, "radius": 6051.04}, {"lat": -80.8, "radius": 6051.05}, {"lat": -80.0, "radius": 6051.06},
      {"lat": -79.2, "radius": 6051.07}, {"lat": -78.4, "radius": 6051.1}, {"lat": -77.6, "radius": 6051.21}, {"lat": -76.8, "radius": 6051.22},
      {"lat": -76.0, "radius": 6051.23}, {"lat": -75.2, "radius": 6051.25}, {"lat": -74.4, "radius": 6051.32}, {"lat": -73.6, "radius": 6051.38},
      {"lat": -72.8, "radius": 6051.43}, {"lat": -72.0, "radius": 6051.54}, {"lat": -71.2, "radius": 6051.56}, {"lat": -70.4, "radius": 6051.58},
      {"lat": -69.6, "radius": 6051.62}, {"lat": -68.8, "radius": 6051.67}, {"lat": -68.0, "radius": 6051.63}, {"lat": -67.2, "radius": 6051.59},
      {"lat": -66.4, "radius": 6051.51}, {"lat": -65.6, "radius": 6051.25}, {"lat": -64.8, "radius": 6051.26}, {"lat": -64.0, "radius": 6051.39},
      {"lat": -63.2, "radius": 6051.1}, {"lat": -62.4, "radius": 6051.11}, {"lat": -61.6, "radius": 6051.48}, {"lat": -60.8, "radius": 6051.5},
      {"lat": -60.1, "radius": 6051.08}, {"lat": -59.0, "radius": 6051.21}, {"lat": -58.2, "radius": 6051.2}, {"lat": -57.3, "radius": 6051.34},
      {"lat": -56.5, "radius": 6051.25}, {"lat": -55.6, "radius": 6051.12}, {"lat": -54.8, "radius": 6051.07}, {"lat": -54.0, "radius": 6051.01},
      {"lat": -53.2, "radius": 6050.94}, {"lat": -52.2, "radius": 6051.11}, {"lat": -51.4, "radius": 6051.12}, {"lat": -50.6, "radius": 6050.99},
      {"lat": -49.8, "radius": 6051.01}, {"lat": -49.0, "radius": 6051.01}, {"lat": -48.2, "radius": 6051.01}, {"lat": -47.4, "radius": 6051.08},
      {"lat": -46.6, "radius": 6051.22}, {"lat": -45.8, "radius": 6051.09}, {"lat": -45.0, "radius": 6051.13}, {"lat": -44.2, "radius": 6051.17},
      {"lat": -42.6, "radius": 6051.14}, {"lat": -41.8, "radius": 6051.25}, {"lat": -41.2, "radius": 6051.3}, {"lat": -40.4, "radius": 6051.13},
      {"lat": -39.6, "radius": 6051.33}, {"lat": -38.9, "radius": 6051.46}, {"lat": -38.2, "radius": 6051.23}, {"lat": -37.4, "radius": 6051.33},
      {"lat": -36.7, "radius": 6051.67}, {"lat": -36.0, "radius": 6051.45}, {"lat": -35.5, "radius": 6051.05}, {"lat": -34.6, "radius": 6051.29},
      {"lat": -33.7, "radius": 6051.57}, {"lat": -33.1, "radius": 6051.63}, {"lat": -32.4, "radius": 6051.3}, {"lat": -31.6, "radius": 6051.11},
      {"lat": -30.9, "radius": 6051.23}, {"lat": -30.2, "radius": 6051.57}, {"lat": -29.4, "radius": 6051.63}, {"lat": -28.6, "radius": 6051.8},
      {"lat": -27.8, "radius": 6051.71}, {"lat": -27.0, "radius": 6051.82}, {"lat": -26.2, "radius": 6051.94}, {"lat": -25.5, "radius": 6052.15},
      {"lat": -24.8, "radius": 6052.28}, {"lat": -24.2, "radius": 6052.03}, {"lat": -23.5, "radius": 6052.38}, {"lat": -22.8, "radius": 6052.26},
      {"lat": -22.1, "radius": 6052.18}, {"lat": -21.3, "radius": 6052.43}, {"lat": -20.7, "radius": 6052.66}, {"lat": -20.0, "radius": 6052.9},
      {"lat": -19.3, "radius": 6052.79}, {"lat": -18.6, "radius": 6053.08}, {"lat": -18.0, "radius": 6053.38}, {"lat": -17.3, "radius": 6053.66},
      {"lat": -15.8, "radius": 6054.17}, {"lat": -15.0, "radius": 6054.18}, {"lat": -14.2, "radius": 6054.19}, {"lat": -13.5, "radius": 6054.02},
      {"lat": -12.8, "radius": 6053.84}, {"lat": -12.3, "radius": 6053.58}, {"lat": -11.8, "radius": 6052.33}, {"lat": -11.5, "radius": 6051.77},
      {"lat": -9.8, "radius": 6053.34}, {"lat": -9.0, "radius": 6053.34}, {"lat": -8.2, "radius": 6053.2}, {"lat": -7.4, "radius": 6053.07},
      {"lat": -6.6, "radius": 6053.13}, {"lat": -5.8, "radius": 6053.03}, {"lat": -5.0, "radius": 6053.11}, {"lat": -4.2, "radius": 6053.36},
      {"lat": -3.4, "radius": 6053.55}, {"lat": -2.6, "radius": 6053.67}, {"lat": -1.8, "radius": 6053.3}, {"lat": -1.0, "radius": 6053.14},
      {"lat": -0.2, "radius": 6052.98}, {"lat": 0.6, "radius": 6052.89}, {"lat": 1.4, "radius": 6052.81}, {"lat": 2.2, "radius": 6052.75},
      {"lat": 3.0, "radius": 6052.7}, {"lat": 3.8, "radius": 6052.8}, {"lat": 4.6, "radius": 6052.88}, {"lat": 5.4, "radius": 6053.14},
      {"lat": 6.2, "radius": 6053.36}, {"lat": 7.0, "radius": 6053.44}, {"lat": 7.8, "radius": 6053.58}, {"lat": 8.6, "radius": 6054.07},
      {"lat": 9.4, "radius": 6053.76}, {"lat": 10.2, "radius": 6053.55}, {"lat": 11.0, "radius": 6053.37}, {"lat": 11.8, "radius": 6053.31},
      {"lat": 12.5, "radius": 6053.33}, {"lat": 13.2, "radius": 6053.07}, {"lat": 14.0, "radius": 6053.21}, {"lat": 14.8, "radius": 6053.32},
      {"lat": 15.6, "radius": 6053.48}, {"lat": 16.4, "radius": 6053.79}, {"lat": 17.1, "radius": 6054.5}, {"lat": 17.8, "radius": 6054.4},
      {"lat": 18.6, "radius": 6054.32}, {"lat": 19.6, "radius": 6055.03}, {"lat": 20.4, "radius": 6054.38}, {"lat": 21.2, "radius": 6054.43},
      {"lat": 21.8, "radius": 6053.92}, {"lat": 22.4, "radius": 6053.16}, {"lat": 23.0, "radius": 6052.83}, {"lat": 23.9, "radius": 6053.12},
      {"lat": 24.6, "radius": 6053.1}, {"lat": 25.3, "radius": 6052.82}, {"lat": 25.9, "radius": 6052.32}, {"lat": 26.6, "radius": 6051.7},
      {"lat": 27.3, "radius": 6051.55}, {"lat": 28.0, "radius": 6051.3}, {"lat": 29.3, "radius": 6052.16}, {"lat": 30.0, "radius": 6052.1},
      {"lat": 30.7, "radius": 6051.95}, {"lat": 31.6, "radius": 6051.12}, {"lat": 32.3, "radius": 6051.33}, {"lat": 33.0, "radius": 6051.33},
      {"lat": 33.9, "radius": 6051.0}, {"lat": 34.7, "radius": 6051.07}, {"lat": 35.3, "radius": 6051.36}, {"lat": 36.0, "radius": 6051.18},
      {"lat": 36.7, "radius": 6051.01}, {"lat": 37.5, "radius": 6050.85}, {"lat": 38.2, "radius": 6051.8}, {"lat": 38.9, "radius": 6051.1},
      {"lat": 39.6, "radius": 6050.9}, {"lat": 40.5, "radius": 6052.03}, {"lat": 41.3, "radius": 6051.64}, {"lat": 42.1, "radius": 6051.57},
      {"lat": 42.9, "radius": 6051.47}, {"lat": 43.7, "radius": 6051.35}, {"lat": 44.3, "radius": 6051.29}, {"lat": 45.6, "radius": 6050.95},
      {"lat": 46.4, "radius": 6051.12}, {"lat": 47.2, "radius": 6051.12}, {"lat": 48.0, "radius": 6051.02}, {"lat": 48.8, "radius": 6050.89},
      {"lat": 49.5, "radius": 6050.72}, {"lat": 50.3, "radius": 6050.79}, {"lat": 51.0, "radius": 6050.88}, {"lat": 51.8, "radius": 6050.6},
      {"lat": 52.6, "radius": 6050.57}, {"lat": 53.4, "radius": 6050.51}, {"lat": 54.0, "radius": 6050.35}, {"lat": 54.6, "radius": 6050.52}
    ]
  },
  "layer": [
    {
      "data": {"name": "black"},
      "mark": {"type": "circle", "color": "black", "size": 150, "opacity": 1},
      "encoding": {
        "x": {
          "field": "lat", "type": "quantitative",
          "scale": {"domain": [-90, 90], "nice": false, "zero": false},
          "axis": {
            "orient": "bottom", "values": [-90, -60, -30, 0, 30, 60, 90],
            "ticks": false, "grid": false,
            "domain": true, "domainWidth": 5, "domainColor": "black", "domainCap": "square",
            "labelExpr": "'' + datum.value",
            "labelFont": "DejaVu Sans", "labelFontSize": 72, "labelColor": "black",
            "labelPadding": 22, "labelFlush": false, "labelOverlap": false, "labelLimit": 0,
            "title": "Latitude, deg", "titleFont": "DejaVu Sans", "titleFontSize": 72,
            "titleFontWeight": "normal", "titleColor": "black", "titlePadding": 10
          }
        },
        "y": {
          "field": "radius", "type": "quantitative",
          "scale": {"domain": [6045, 6065], "nice": false, "zero": false},
          "axis": {
            "orient": "left", "values": [6045, 6050, 6055, 6060, 6065],
            "ticks": false, "grid": false,
            "domain": true, "domainWidth": 5, "domainColor": "black", "domainCap": "square",
            "labelExpr": "'' + datum.value",
            "labelFont": "DejaVu Sans", "labelFontSize": 72, "labelColor": "black",
            "labelPadding": 42, "labelFlush": false, "labelOverlap": false, "labelLimit": 0,
            "title": "Radius, km", "titleFont": "DejaVu Sans", "titleFontSize": 72,
            "titleFontWeight": "normal", "titleColor": "black", "titlePadding": 72
          }
        }
      }
    },
    {
      "data": {"name": "red"},
      "mark": {"type": "circle", "color": "#ff0000", "size": 210, "opacity": 1},
      "encoding": {
        "x": {
          "field": "lat", "type": "quantitative",
          "axis": {
            "orient": "bottom", "values": [-90, -60, -30, 0, 30, 60, 90],
            "ticks": true, "tickSize": -112, "tickWidth": 5, "tickColor": "black",
            "labels": false, "domain": false, "grid": false, "title": null
          }
        },
        "y": {
          "field": "radius", "type": "quantitative",
          "axis": {
            "orient": "left", "values": [6045, 6050, 6055, 6060, 6065],
            "ticks": true, "tickSize": -112, "tickWidth": 5, "tickColor": "black",
            "labels": false, "domain": false, "grid": false, "title": null
          }
        }
      }
    },
    {
      "data": {"name": "red"},
      "mark": {"type": "circle", "opacity": 0},
      "encoding": {
        "x": {
          "field": "lat", "type": "quantitative",
          "axis": {
            "orient": "bottom",
            "values": [-85, -80, -75, -70, -65, -55, -50, -45, -40, -35, -25, -20, -15, -10, -5, 5, 10, 15, 20, 25, 35, 40, 45, 50, 55, 65, 70, 75, 80, 85],
            "ticks": true, "tickSize": -56, "tickWidth": 5, "tickColor": "black",
            "labels": false, "domain": false, "grid": false, "title": null
          }
        },
        "y": {
          "field": "radius", "type": "quantitative",
          "axis": {
            "orient": "left",
            "values": [6046, 6047, 6048, 6049, 6051, 6052, 6053, 6054, 6056, 6057, 6058, 6059, 6061, 6062, 6063, 6064],
            "ticks": true, "tickSize": -56, "tickWidth": 5, "tickColor": "black",
            "labels": false, "domain": false, "grid": false, "title": null
          }
        }
      }
    },
    {
      "data": {"name": "red"},
      "mark": {"type": "circle", "opacity": 0},
      "encoding": {
        "x": {
          "field": "lat", "type": "quantitative",
          "axis": {
            "orient": "top", "values": [-90, -60, -30, 0, 30, 60, 90],
            "ticks": true, "tickSize": -112, "tickWidth": 5, "tickColor": "black",
            "labels": false, "grid": false, "title": null,
            "domain": true, "domainWidth": 5, "domainColor": "black", "domainCap": "square"
          }
        },
        "y": {
          "field": "radius", "type": "quantitative",
          "axis": {
            "orient": "right", "values": [6045, 6050, 6055, 6060, 6065],
            "ticks": true, "tickSize": -112, "tickWidth": 5, "tickColor": "black",
            "labels": false, "grid": false, "title": null,
            "domain": true, "domainWidth": 5, "domainColor": "black", "domainCap": "square"
          }
        }
      }
    },
    {
      "data": {"name": "red"},
      "mark": {"type": "circle", "opacity": 0},
      "encoding": {
        "x": {
          "field": "lat", "type": "quantitative",
          "axis": {
            "orient": "top",
            "values": [-85, -80, -75, -70, -65, -55, -50, -45, -40, -35, -25, -20, -15, -10, -5, 5, 10, 15, 20, 25, 35, 40, 45, 50, 55, 65, 70, 75, 80, 85],
            "ticks": true, "tickSize": -56, "tickWidth": 5, "tickColor": "black",
            "labels": false, "domain": false, "grid": false, "title": null
          }
        },
        "y": {
          "field": "radius", "type": "quantitative",
          "axis": {
            "orient": "right",
            "values": [6046, 6047, 6048, 6049, 6051, 6052, 6053, 6054, 6056, 6057, 6058, 6059, 6061, 6062, 6063, 6064],
            "ticks": true, "tickSize": -56, "tickWidth": 5, "tickColor": "black",
            "labels": false, "domain": false, "grid": false, "title": null
          }
        }
      }
    }
  ],
  "resolve": {"axis": {"x": "independent", "y": "independent"}},
  "config": {
    "view": {"stroke": null},
    "axis": {"tickCap": "butt"}
  }
}
